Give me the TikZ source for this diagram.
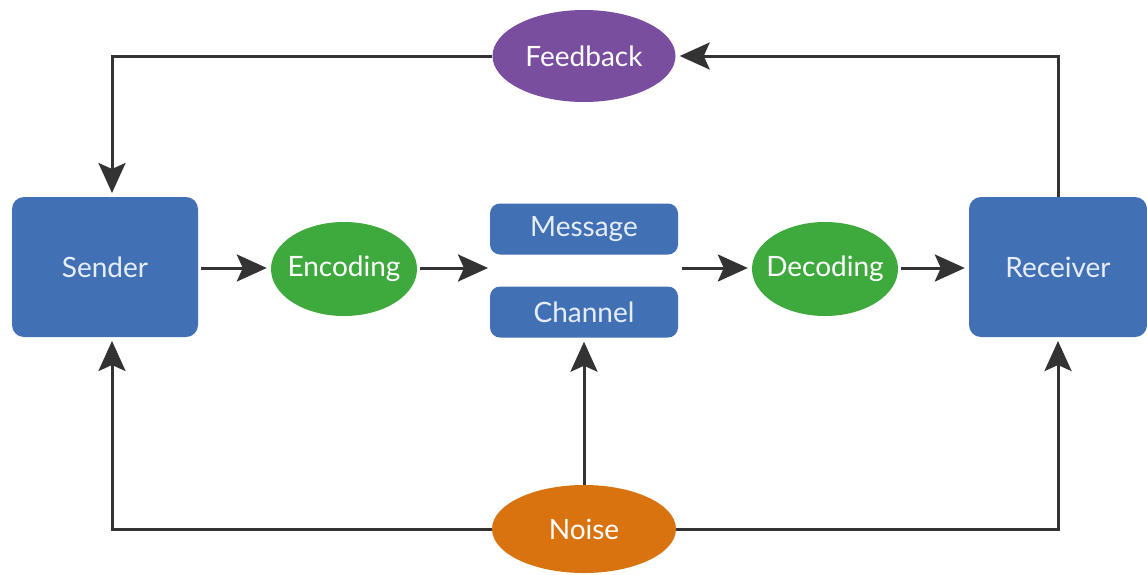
\documentclass[tikz,border=0pt]{standalone}
\usepackage{fontspec}
\setmainfont{Lato}
\usetikzlibrary{shapes.geometric,arrows.meta}
\definecolor{boxblue}{HTML}{4270B4}
\definecolor{ellgreen}{HTML}{3EAA3E}
\definecolor{ellpurple}{HTML}{7A4E9F}
\definecolor{ellorange}{HTML}{D8730F}
\definecolor{linegray}{HTML}{333333}
\definecolor{txtblue}{HTML}{E6EEFA}
\begin{document}
\begin{tikzpicture}[x=1pt,y=-1pt,
  lbl/.style={font=\fontsize{28}{32}\selectfont},
  bigbox/.style={lbl,draw=none,fill=boxblue,rounded corners=12pt,minimum width=186pt,minimum height=140pt,text=txtblue},
  smallbox/.style={lbl,draw=none,fill=boxblue,rounded corners=10pt,minimum width=188pt,minimum height=51pt,text=txtblue},
  oval/.style={lbl,ellipse,draw=none,inner xsep=-20pt,inner ysep=0pt,text=white},
  conn/.style={draw=linegray,line width=3pt,-{Stealth[length=30pt,width=27pt,inset=6pt]},shorten >=4pt}]
\useasboundingbox (0,0) rectangle (1147,574);
\fill[white] (0,0) rectangle (1147,574);
\node[oval,fill=ellpurple,minimum width=183pt,minimum height=92pt] (fb) at (584,56) {Feedback};
\node[bigbox] (snd) at (105,267) {Sender};
\node[bigbox,minimum width=178pt] (rcv) at (1058,267) {Receiver};
\node[oval,fill=ellgreen,minimum width=146pt,minimum height=94pt] (enc) at (344,269) {Encoding};
\node[oval,fill=ellgreen,minimum width=146pt,minimum height=94pt] (dec) at (825,269) {Decoding};
\node[smallbox] (msg) at (584,229) {Message};
\node[smallbox] (chn) at (584,312) {Channel};
\node[oval,fill=ellorange,minimum width=184pt,minimum height=88pt] (noi) at (584,529) {Noise};
\coordinate (gapL) at (492,268);
\coordinate (gapR) at (682,268);
% feedback loop
\draw[conn] (1058,197) |- (fb.east);
\draw[conn] (fb.west) -| (112,197);
% main flow
\draw[conn] (201,268) -- (enc.west|-0,268);
\draw[conn] (420,268) -- (gapL);
\draw[conn] (gapR) -- (dec.west|-0,268);
\draw[conn] (901,268) -- (rcv.west|-0,268);
% noise
\draw[conn] (noi.north) -- (chn.south);
\draw[conn] (noi.west) -| (112,337);
\draw[conn] (noi.east) -| (1058,337);
\end{tikzpicture}
\end{document}
